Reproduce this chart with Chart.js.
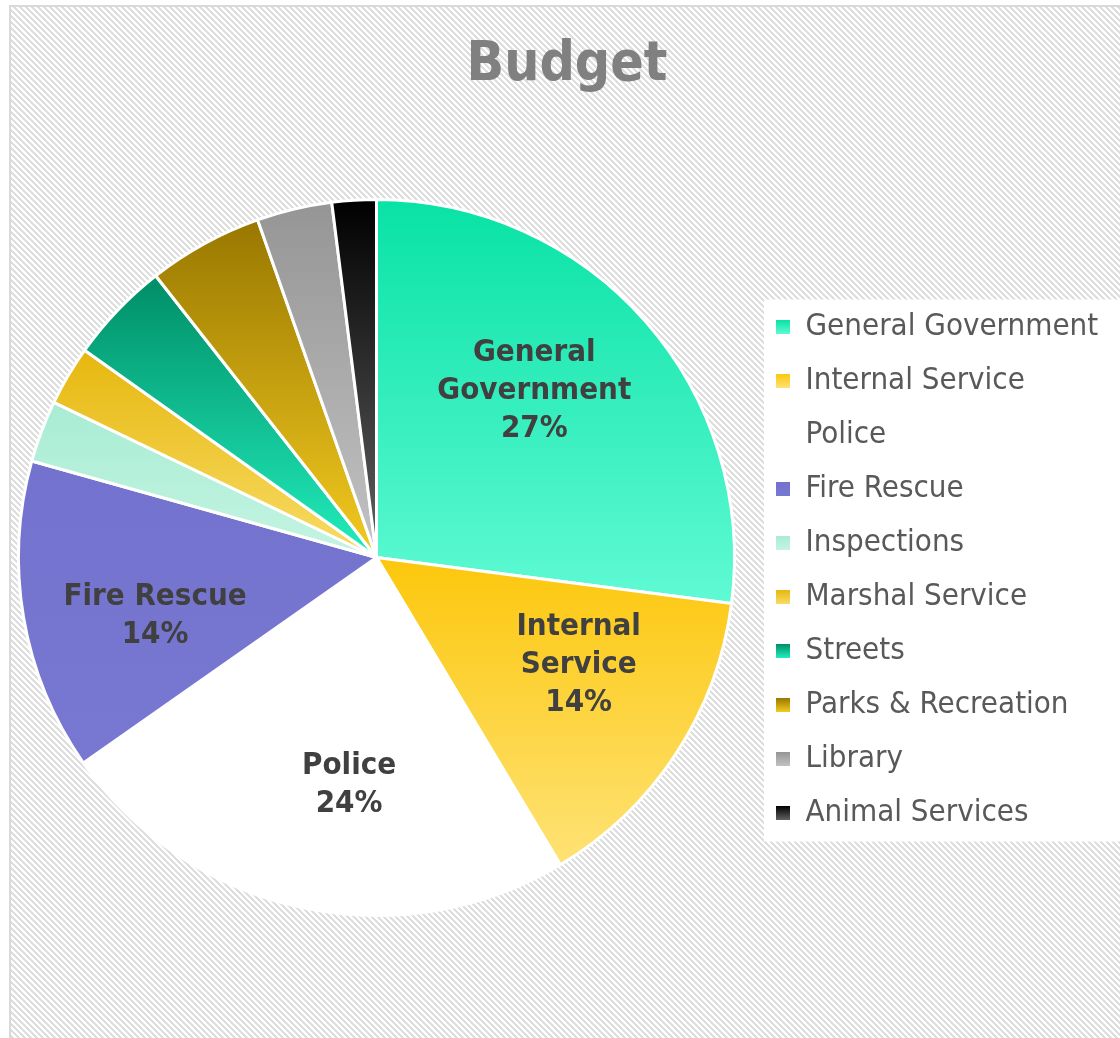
<!DOCTYPE html>
<html>
<head>
<meta charset="utf-8">
<title>Budget</title>
<script src="https://cdn.jsdelivr.net/npm/chart.js@4.4.1/dist/chart.umd.min.js"></script>
<style>
  html, body { margin: 0; padding: 0; background: #fff; }
  canvas { display: block; }
</style>
</head>
<body>
<canvas id="budget" width="1120" height="1038"></canvas>
<script>
var departments = ['General Government', 'Internal Service', 'Police', 'Fire Rescue', 'Inspections',
  'Marshal Service', 'Streets', 'Parks & Recreation', 'Library', 'Animal Services'];
// share of the budget, in percent
var shares = [27.1, 14.4, 23.9, 14.1, 2.8, 2.7, 4.6, 5.2, 3.4, 2.0];
// each slice is shaded from its top colour down to its bottom colour
var topColors = ['#08e2a5', '#fcc70c', '#ffffff', '#7373cf', '#a8ecd3', '#e6b70e', '#008d66', '#987700', '#959595', '#000000'];
var bottomColors = ['#60fad4', '#fee275', '#ffffff', '#7878d2', '#c4f4e2', '#f8dc66', '#22eebd', '#f4cb20', '#c2c2c2', '#626262'];

var FONT = '"DejaVu Sans Condensed", "DejaVu Sans", sans-serif';
Chart.defaults.font.family = FONT;

var LEGEND_SIZE = 31, LEGEND_PAD = 23, SWATCH = 14;

var total = shares.reduce(function (a, b) { return a + b; }, 0);

// vertical extent of slice i, so its gradient runs over the slice only
function sliceBounds(area, i) {
  var cx = (area.left + area.right) / 2, cy = (area.top + area.bottom) / 2;
  var r = Math.min(area.right - area.left, area.bottom - area.top) / 2;
  var start = 0;
  for (var k = 0; k < i; k++) start += shares[k];
  var a0 = start / total * 360, a1 = (start + shares[i]) / total * 360;
  var ys = [cy, cy - r * Math.cos(a0 * Math.PI / 180), cy - r * Math.cos(a1 * Math.PI / 180)];
  if (a0 <= 0 || a1 >= 360) ys.push(cy - r);
  if (a0 <= 180 && a1 >= 180) ys.push(cy + r);
  return { top: Math.min.apply(null, ys), bottom: Math.max.apply(null, ys) };
}

function sliceFill(c) {
  var area = c.chart.chartArea;
  var i = c.dataIndex;
  if (!area) return topColors[i];
  var b = sliceBounds(area, i);
  var g = c.chart.ctx.createLinearGradient(0, b.top, 0, b.bottom);
  g.addColorStop(0, topColors[i]);
  g.addColorStop(1, bottomColors[i]);
  return g;
}

// diagonal hatch tile for the chart background
function hatchPattern(ctx) {
  var tile = document.createElement('canvas');
  tile.width = 6; tile.height = 6;
  var t = tile.getContext('2d');
  t.fillStyle = '#ffffff';
  t.fillRect(0, 0, 6, 6);
  t.fillStyle = '#dedede';
  for (var y = 0; y < 6; y++) {
    for (var x = 0; x < 6; x++) {
      if (((x - y) % 6 + 6) % 6 < 3) t.fillRect(x, y, 1, 1);
    }
  }
  return ctx.createPattern(tile, 'repeat');
}

// longest legend text decides how much room the legend takes
var probe = document.createElement('canvas').getContext('2d');
probe.font = LEGEND_SIZE + 'px ' + FONT;
var longest = Math.max.apply(null, departments.map(function (d) { return probe.measureText(d).width; }));
var legendLeft = 753;
var padRight = 1120 - legendLeft - (LEGEND_PAD + SWATCH + LEGEND_SIZE / 2 + longest + 10);

var paper = {
  id: 'paper',
  afterLayout: function (chart) {
    // title sits a little right of the canvas centre
    chart.titleBlock.left = 14;
    chart.titleBlock.right = chart.width;
  },
  beforeDraw: function (chart) {
    var ctx = chart.ctx, w = chart.width, h = chart.height;
    ctx.save();
    ctx.fillStyle = '#ffffff';
    ctx.fillRect(0, 0, w, h);
    ctx.fillStyle = hatchPattern(ctx);
    ctx.fillRect(11, 7, w, h);
    ctx.strokeStyle = '#d9d9d9';
    ctx.lineWidth = 2;
    ctx.beginPath();
    ctx.moveTo(10, h);
    ctx.lineTo(10, 6);
    ctx.lineTo(w, 6);
    ctx.stroke();

    var legend = chart.legend;
    var boxes = legend.legendHitBoxes;
    ctx.fillStyle = '#ffffff';
    var top = boxes[0].top - 12;
    var bottom = boxes[boxes.length - 1].top + boxes[boxes.length - 1].height + 13;
    ctx.fillRect(764, top, w, bottom - top);
    ctx.restore();

    // shaded legend swatches, no outline
    legend.legendItems.forEach(function (item, i) {
      var y0 = boxes[i].top + (LEGEND_SIZE - SWATCH) / 2;
      var g = ctx.createLinearGradient(0, y0, 0, y0 + SWATCH);
      g.addColorStop(0, topColors[i]);
      g.addColorStop(1, bottomColors[i]);
      item.fillStyle = g;
      item.lineWidth = 0;
    });
  }
};

function wrapWords(ctx, text, maxWidth) {
  var words = text.split(' '), lines = [], line = '';
  words.forEach(function (word) {
    var test = line ? line + ' ' + word : word;
    if (line && ctx.measureText(test).width > maxWidth) {
      lines.push(line);
      line = word;
    } else {
      line = test;
    }
  });
  lines.push(line);
  return lines;
}

// name and percentage inside the big slices
var sliceLabels = {
  id: 'sliceLabels',
  afterDatasetsDraw: function (chart) {
    var ctx = chart.ctx;
    var meta = chart.getDatasetMeta(0);
    ctx.save();
    ctx.font = 'bold 31px ' + FONT;
    ctx.fillStyle = '#404040';
    ctx.textAlign = 'center';
    ctx.textBaseline = 'middle';
    meta.data.forEach(function (arc, i) {
      var pct = shares[i] / total * 100;
      if (pct < 10) return;
      var p = arc.getProps(['x', 'y', 'startAngle', 'endAngle', 'outerRadius'], true);
      // labels lean a little back towards the start of their slice
      var mid = (p.startAngle + p.endAngle) / 2 - 0.09;
      var rr = p.outerRadius * 0.64;
      var x = p.x + Math.cos(mid) * rr;
      var y = p.y + Math.sin(mid) * rr;
      var lines = wrapWords(ctx, departments[i], 200).concat([Math.round(pct) + '%']);
      lines.forEach(function (line, k) {
        ctx.fillText(line, x, y + (k - (lines.length - 1) / 2) * 38);
      });
    });
    ctx.restore();
  }
};

new Chart(document.getElementById('budget'), {
  type: 'pie',
  data: {
    labels: departments,
    datasets: [{
      data: shares,
      backgroundColor: sliceFill,
      borderColor: '#ffffff',
      borderWidth: 3,
      hoverBorderWidth: 3,
      hoverOffset: 0
    }]
  },
  options: {
    responsive: false,
    animation: false,
    events: [],
    layout: { padding: { top: 5, left: 0, right: padRight, bottom: 121 } },
    plugins: {
      title: {
        display: true,
        text: 'Budget',
        color: '#808080',
        font: { size: 55, weight: 'bold', lineHeight: 1.2 },
        padding: { top: 28, bottom: 99 }
      },
      legend: {
        position: 'right',
        fullSize: false,
        title: { display: true, text: '', padding: 0, font: { size: 20, lineHeight: 1.25 } },
        labels: {
          font: { size: LEGEND_SIZE },
          color: '#595959',
          boxWidth: SWATCH,
          boxHeight: SWATCH,
          padding: LEGEND_PAD
        }
      },
      tooltip: { enabled: false }
    }
  },
  plugins: [paper, sliceLabels]
});
</script>
</body>
</html>
